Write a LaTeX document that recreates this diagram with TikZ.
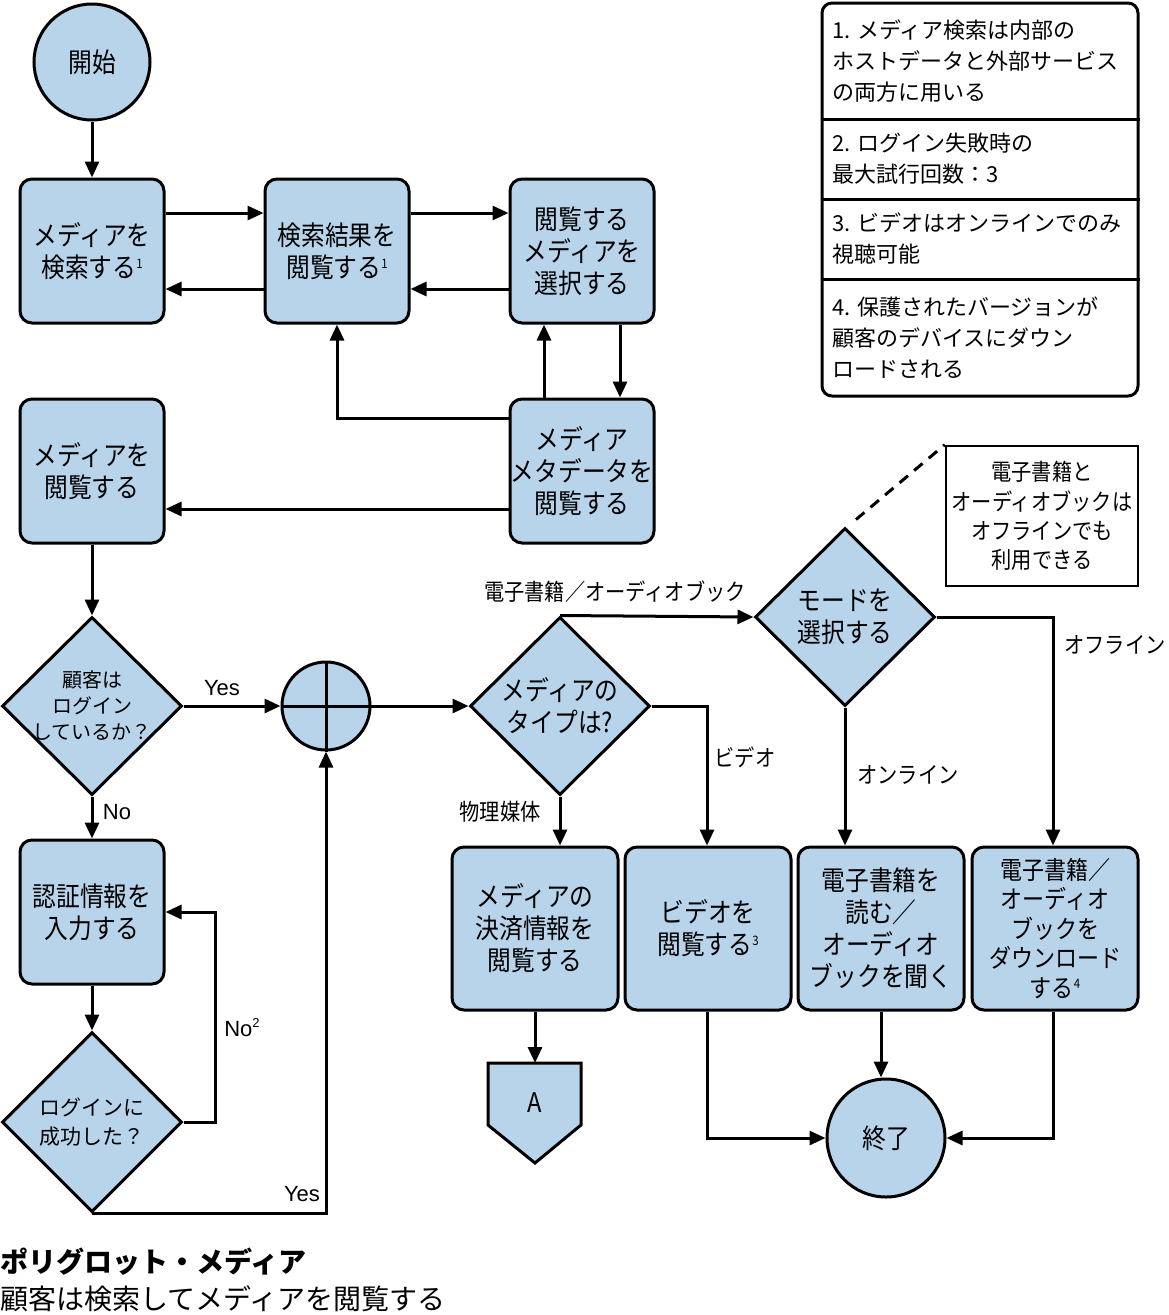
\documentclass[tikz,border=0pt]{standalone}
\usepackage{fontspec}
\setmainfont{Noto Sans CJK JP}
\newfontfamily\bxf[FakeStretch=0.88]{Noto Sans CJK JP}
\newfontfamily\ntf{Noto Sans CJK JP}
\newfontfamily\latf{Liberation Sans}
\usetikzlibrary{arrows.meta,shapes.geometric}
\definecolor{fillb}{RGB}{184,212,234}
\newcommand\boxfont{\bxf\fontsize{27}{32}\selectfont}
\newcommand\fnm[1]{\raisebox{9pt}{\fontsize{13}{13}\selectfont #1}}
\begin{document}
\begin{tikzpicture}[x=1pt,y=-1pt,
  proc/.style={draw, line width=3pt, fill=fillb, rounded corners=12pt, minimum width=144pt, minimum height=144pt, inner sep=0pt, align=center, font=\boxfont},
  lproc/.style={proc, minimum width=166pt, minimum height=163pt},
  dia/.style={draw, line width=3pt, fill=fillb, diamond, minimum width=180pt, minimum height=178pt, inner sep=0pt},
  dtext/.style={align=center, inner sep=0pt},
  term/.style={draw, line width=3pt, fill=fillb, circle, inner sep=0pt, font=\boxfont},
  arr/.style={line width=3pt, -{Triangle[length=16pt,width=14pt]}},
  ln/.style={line width=3pt},
  elab/.style={font=\bxf\fontsize{23}{28}\selectfont, inner sep=0pt},
  ylab/.style={font=\latf\fontsize{22}{26}\selectfont, inner sep=0pt},
  notetxt/.style={anchor=west, align=left, inner sep=0pt, font=\ntf\fontsize{22}{31}\selectfont}
]
\useasboundingbox (0,0) rectangle (1169,1315);

% top-right notes
\node[draw, line width=3pt, fill=white, rounded corners=10pt, minimum width=316pt, minimum height=393pt, inner sep=0pt] (notes) at (980,199.5) {};
\draw[ln] (notes.west |- 0,119) -- (notes.east |- 0,119);
\draw[ln] (notes.west |- 0,199) -- (notes.east |- 0,199);
\draw[ln] (notes.west |- 0,279) -- (notes.east |- 0,279);
\node[notetxt] (n1) at (832,61) {1. メディア検索は内部の\\ホストデータと外部サービス\\の両方に用いる};
\node[notetxt] (n2) at (832,159) {2. ログイン失敗時の\\最大試行回数：3};
\node[notetxt] (n3) at (832,239) {3. ビデオはオンラインでのみ\\視聴可能};
\node[notetxt] (n4) at (832,338) {4. 保護されたバージョンが\\顧客のデバイスにダウン\\ロードされる};

% nodes
\node[term, minimum size=116pt] (start) at (92,62) {開始};
\node[proc] (b1) at (92,251) {メディアを\\検索する\fnm{1}};
\node[proc] (b2) at (337,251) {検索結果を\\閲覧する\fnm{1}};
\node[proc] (b3) at (582,251) {閲覧する\\メディアを\\選択する};
\node[proc] (b4) at (582,471) {メディア\\メタデータを\\閲覧する};
\node[proc] (b5) at (92,471) {メディアを\\閲覧する};

\node[dia] (d1) at (92,706) {};
\node[dtext, font=\ntf\fontsize{20}{26}\selectfont] (d1t) at (d1) {顧客は\\ログイン\\しているか？};
\node[draw, line width=3pt, fill=fillb, circle, minimum size=88pt, inner sep=0pt] (j) at (326,706) {};
\draw[ln] (j.north) -- (j.south);
\draw[ln] (j.west) -- (j.east);
\node[dia] (d2) at (560,706) {};
\node[dtext, font=\boxfont] (d2t) at (d2) {メディアの\\タイプは?};
\node[dia] (d3) at (845,617) {};
\node[dtext, font=\boxfont] (d3t) at (d3) {モードを\\選択する};

\node[draw, line width=2.5pt, fill=white, minimum width=192pt, minimum height=140pt, inner sep=0pt, align=center, font=\bxf\fontsize{23}{29.5}\selectfont] (note) at (1042,516) {電子書籍と\\オーディオブックは\\オフラインでも\\利用できる};

\node[proc] (auth) at (92,912) {認証情報を\\入力する};
\node[dia, minimum height=180pt] (d4) at (92,1122) {};
\node[dtext, font=\ntf\fontsize{21}{29}\selectfont] (d4t) at (d4) {ログインに\\成功した？};

\node[lproc] (pay) at (535,928.5) {メディアの\\決済情報を\\閲覧する};
\node[lproc] (vid) at (708,928.5) {ビデオを\\閲覧する\fnm{3}};
\node[lproc] (rd) at (881,928.5) {電子書籍を\\読む／\\オーディオ\\ブックを聞く};
\node[lproc, font=\bxf\fontsize{25}{29.5}\selectfont] (dl) at (1055,928.5) {電子書籍／\\オーディオ\\ブックを\\ダウンロード\\する\fnm{4}};

\draw[line width=3pt, fill=fillb] (488,1063) -- (581,1063) -- (581,1125) -- (535,1163) -- (488,1125) -- cycle;
\node[font=\bxf\fontsize{27}{32}\selectfont, inner sep=0pt] (A) at (535,1103) {A};
\coordinate (Atop) at (535,1063);

\node[term, minimum size=118pt] (end) at (886,1138) {終了};

% connectors
\draw[arr] (start) -- (b1);
\draw[arr] (b1.east |- 0,213) -- (b2.west |- 0,213);
\draw[arr] (b2.west |- 0,289) -- (b1.east |- 0,289);
\draw[arr] (b2.east |- 0,213) -- (b3.west |- 0,213);
\draw[arr] (b3.west |- 0,289) -- (b2.east |- 0,289);
\draw[arr] (b3.south -| 620,0) -- (b4.north -| 620,0);
\draw[arr] (b4.north -| 544,0) -- (b3.south -| 544,0);
\draw[arr] (b4.west |- 0,418) -| (b2.south);
\draw[arr] (b4.west |- 0,509) -- (b5.east |- 0,509);
\draw[arr] (b5) -- (d1);
\draw[arr] (d1.east) -- (j.west);
\draw[arr] (j.east) -- (d2.west);
\draw[arr] (d2.north) -- (d3.west);
\draw[arr] (d3.east) -| (dl.north -| 1053,0);
\draw[arr] (d3.south) -- (d3.south |- rd.north);
\draw[arr] (d2.east) -| (vid.north -| 707,0);
\draw[arr] (d2.south) -- (d2.south |- pay.north);
\draw[arr] (pay.south) -- (Atop);
\draw[arr] (vid.south -| 707,0) |- (end.west);
\draw[arr] (rd.south) -- (rd.south |- end.north);
\draw[arr] (dl.south -| 1053,0) |- (end.east);
\draw[arr] (d1.south) -- (auth.north);
\draw[arr] (auth.south) -- (d4.north);
\draw[arr] (d4.east) -- ++(32,0) |- (auth.east);
\draw[arr] (d4.south) -| (j.south);
\draw[line width=3pt, dash pattern=on 11pt off 8pt] ([xshift=11pt,yshift=7pt]d3.north) -- (note.north west);

% labels
\node[ylab] (lyes1) at (222,688) {Yes};
\node[ylab] (lno1) at (117,812) {No};
\node[ylab] (lno2) at (242,1028) {No\fnm{2}};
\node[ylab] (lyes2) at (302,1194) {Yes};
\node[elab] (lebook) at (615,592) {電子書籍／オーディオブック};
\node[elab] (loff) at (1115,645) {オフライン};
\node[elab] (lon) at (908,775) {オンライン};
\node[elab] (lvid) at (745,757) {ビデオ};
\node[elab] (lphys) at (500,812) {物理媒体};

% title
\node[anchor=west, inner sep=0pt, font=\ntf\bfseries\fontsize{28}{32}\selectfont] (title) at (0,1262) {ポリグロット・メディア};
\node[anchor=west, inner sep=0pt, font=\ntf\fontsize{28}{32}\selectfont] (subtitle) at (0,1299) {顧客は検索してメディアを閲覧する};
\end{tikzpicture}
\end{document}
